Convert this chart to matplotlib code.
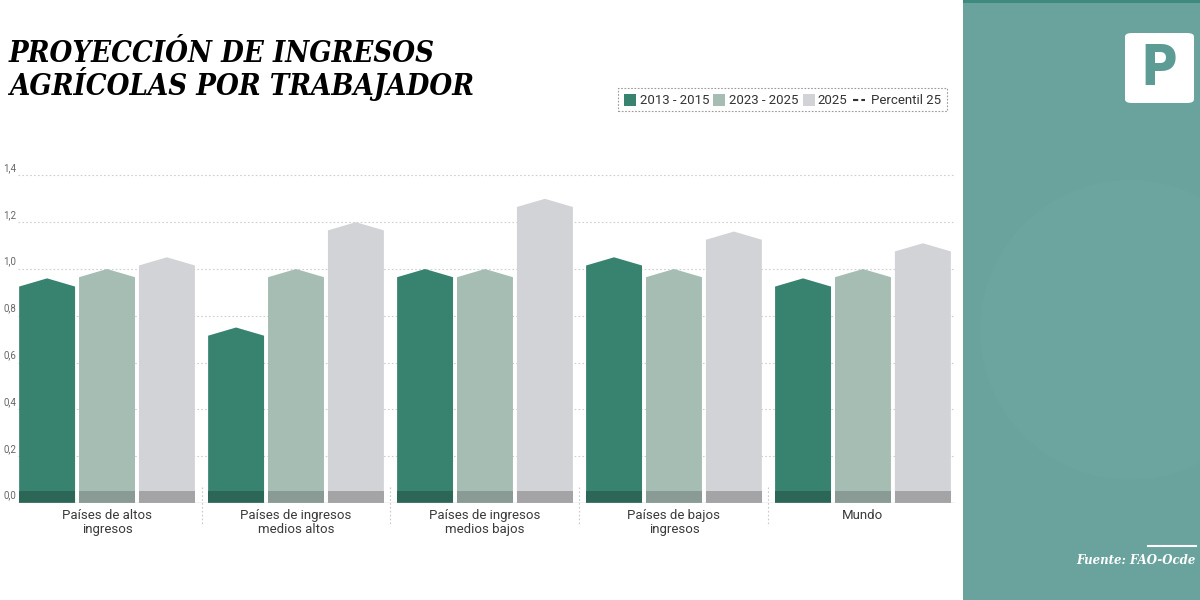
import numpy as np
import matplotlib.pyplot as plt
import matplotlib.patches as patches
import matplotlib.transforms as mtransforms

# data
categories = ["Países de altos\ningresos", "Países de ingresos\nmedios altos",
              "Países de ingresos\nmedios bajos", "Países de bajos\ningresos", "Mundo"]
series_names = ["2013 - 2015", "2023 - 2025", "2025"]
v_2013_2015 = [0.96, 0.75, 1.00, 1.05, 0.96]
v_2023_2025 = [1.00, 1.00, 1.00, 1.00, 1.00]
v_2025 = [1.05, 1.20, 1.30, 1.16, 1.11]
percentil_25 = [0.05, 0.05, 0.05, 0.05, 0.05]
yticks = [0.0, 0.2, 0.4, 0.6, 0.8, 1.0, 1.2, 1.4]

bar_colors = ["#38836f", "#a6bdb4", "#d1d3d6"]
band_colors = ["#2b6656", "#8a9b95", "#a4a4a7"]
panel = "#6aa39d"

W, H = 1200, 600


def fx(px):
    return px / W


def fy(py):
    return 1 - py / H


fig = plt.figure(figsize=(12, 6), dpi=100)
fig.patch.set_facecolor("white")

# right panel
fig.patches.append(patches.Rectangle((fx(963), 0), 1 - fx(963), 1, transform=fig.transFigure,
                                     fc=panel, ec="none", zorder=0))
fig.patches.append(patches.Ellipse((fx(1130), fy(330)), 300 / W, 300 / H, transform=fig.transFigure,
                                   fc="#6ca59f", ec="none", zorder=0.5))
fig.patches.append(patches.Rectangle((fx(963), fy(3)), 1 - fx(963), 3 / H, transform=fig.transFigure,
                                     fc="#3f8a7e", ec="none", zorder=1))
# logo
fig.patches.append(patches.FancyBboxPatch((fx(1125), fy(103)), 69 / W, 70 / H,
                                          boxstyle="round,pad=0,rounding_size=0.006",
                                          transform=fig.transFigure, fc="white", ec="none", zorder=2))
fig.text(fx(1159), fy(69), "P", ha="center", va="center", fontsize=40, fontweight="bold",
         family="DejaVu Sans", fontstretch="condensed", color="#5d9c95", zorder=3)
# source
fig.lines.append(plt.Line2D([fx(1148), fx(1196)], [fy(546), fy(546)], transform=fig.transFigure,
                            color="white", lw=1.5))
fig.text(fx(1196), fy(560), "Fuente: FAO-Ocde", ha="right", va="center", fontsize=8.5,
         style="italic", fontweight="bold", family="DejaVu Serif", color="white")

# title
title_kw = dict(ha="left", va="center", fontsize=21, style="italic", fontweight="bold",
                family="DejaVu Serif", fontstretch="condensed", color="black")
fig.text(fx(9), fy(53), "PROYECCIÓN DE INGRESOS", **title_kw)
fig.text(fx(9), fy(84), "AGRÍCOLAS POR TRABAJADOR", **title_kw)

# axes
ax = fig.add_axes([fx(18), fy(503), 937 / W, 351 / H])
ax.patch.set_alpha(0)
ax.set_xlim(-0.471, 4.487)
ax.set_ylim(0, 1.5)
ax.axis("off")

ylab_tr = mtransforms.blended_transform_factory(ax.transAxes, ax.transData)
for t in yticks[1:]:
    ax.axhline(t, color="#cfcfcf", lw=0.8, ls=(0, (1.5, 2)), zorder=0)
for t in yticks:
    ax.text(-0.016, t + 0.01, f"{t:.1f}".replace(".", ","), ha="left", va="bottom",
            fontsize=7, color="#666666", family="Roboto", transform=ylab_tr, clip_on=False)
ax.axhline(0, color="#bdbdbd", lw=1, zorder=3)

width = 0.296
offset = 0.317
roof = 0.035
series = [v_2013_2015, v_2023_2025, v_2025]
for s, vals in enumerate(series):
    for i, v in enumerate(vals):
        xc = i + (s - 1) * offset
        x0, x1 = xc - width / 2, xc + width / 2
        poly = patches.Polygon([(x0, 0), (x0, v - roof), (xc, v), (x1, v - roof), (x1, 0)],
                               closed=True, fc=bar_colors[s], ec="none", zorder=2)
        ax.add_patch(poly)
        ax.add_patch(patches.Rectangle((x0, 0), width, percentil_25[i], fc=band_colors[s],
                                       ec="none", zorder=2.5))

for i in range(len(categories)):
    ax.text(i, -0.025, categories[i], ha="center", va="top", fontsize=9.5, color="#3a3a3a",
            family="Roboto", linespacing=1.15, clip_on=False)
for i in range(len(categories) - 1):
    ax.plot([i + 0.5, i + 0.5], [0.07, -0.1], color="#c8c8c8", lw=0.8, ls=(0, (1.5, 2)),
            clip_on=False, zorder=1)

# legend
fig.patches.append(patches.Rectangle((fx(618), fy(111)), 329 / W, 23 / H, transform=fig.transFigure,
                                     fc="none", ec="#9a9a9a", lw=0.8, ls=(0, (1.5, 1.5))))
leg_items = [(624, 640), (713, 729), (803, 817)]
for (sq, tx), name, c in zip(leg_items, series_names, bar_colors):
    fig.patches.append(patches.Rectangle((fx(sq), fy(106)), 12 / W, 12 / H, transform=fig.transFigure,
                                         fc=c, ec="none"))
    fig.text(fx(tx), fy(100), name, ha="left", va="center", fontsize=9.5, family="Roboto",
             color="#333333")
fig.lines.append(plt.Line2D([fx(853), fx(865)], [fy(100), fy(100)], transform=fig.transFigure,
                            color="#333333", lw=1.5, ls=(0, (2.5, 1.5))))
fig.text(fx(871), fy(100), "Percentil 25", ha="left", va="center", fontsize=9.5, family="Roboto",
         color="#333333")

fig.savefig("out.png", dpi=100)
